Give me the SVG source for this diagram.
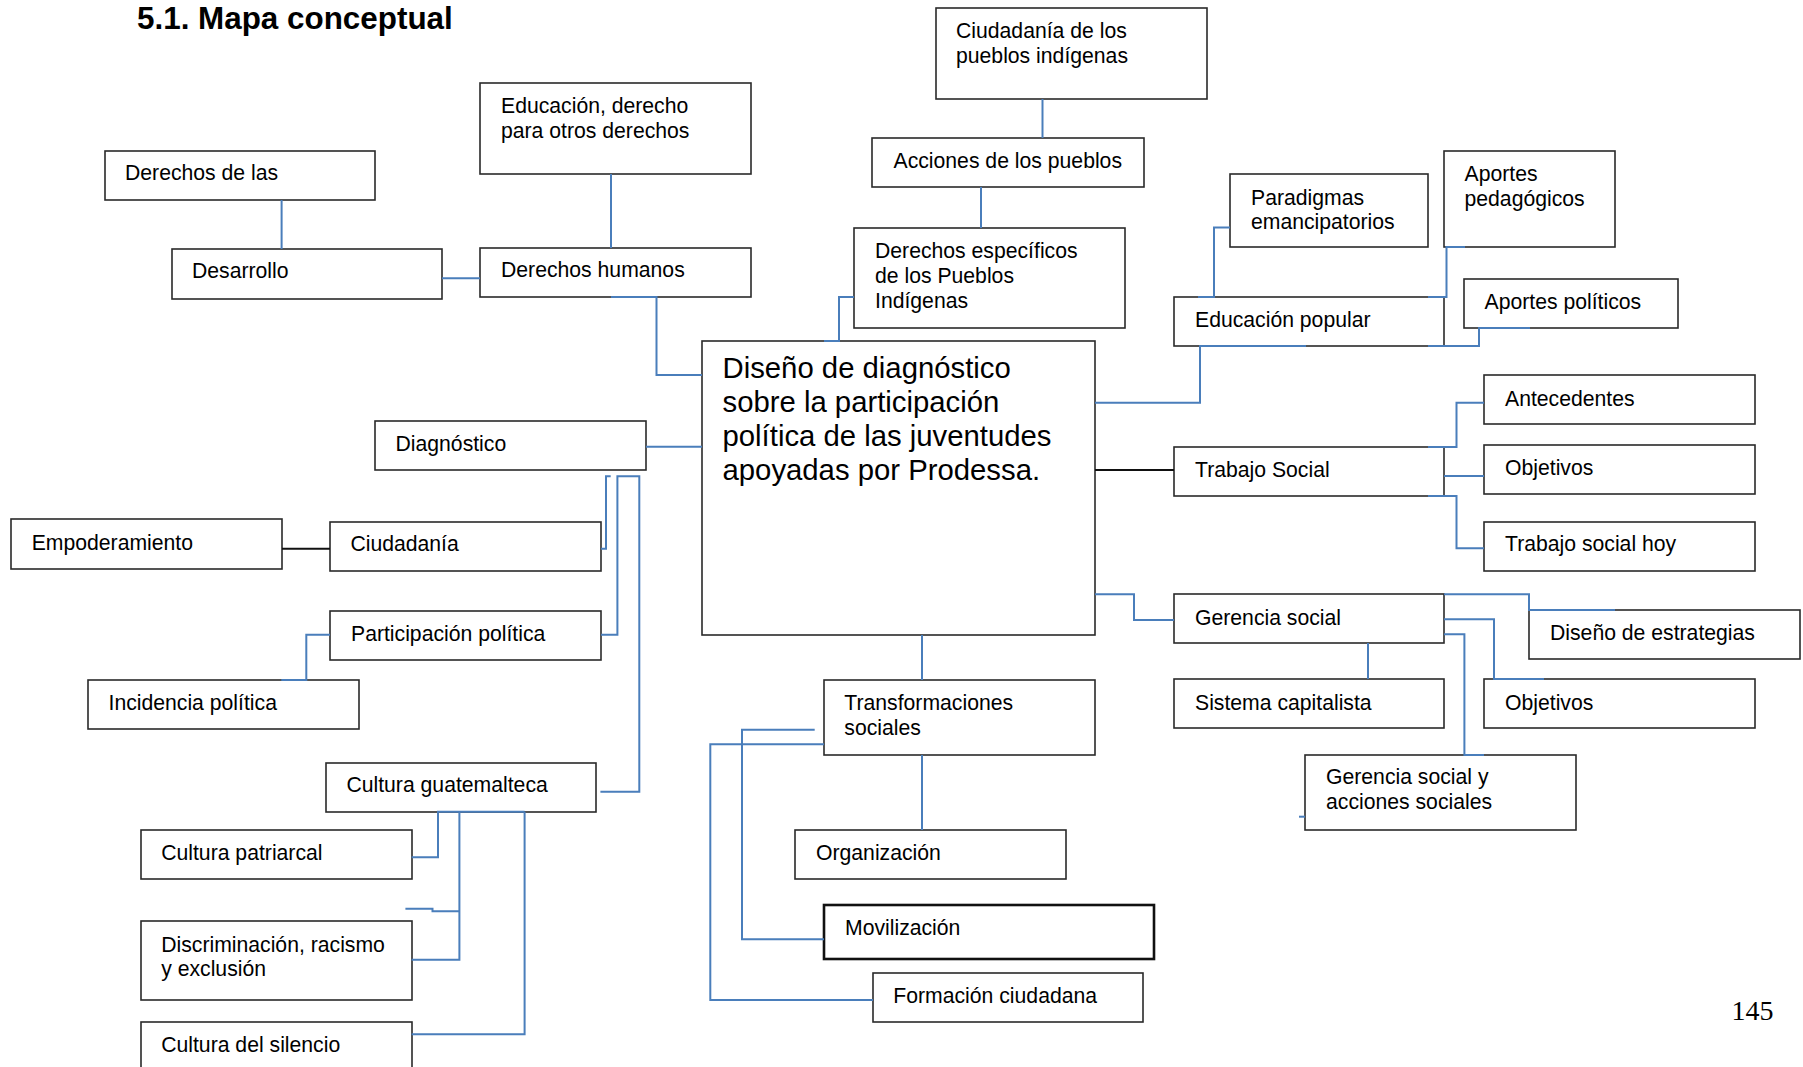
<svg xmlns="http://www.w3.org/2000/svg" width="1803" height="1067" viewBox="0 0 1803 1067">
<style>
.box{fill:#fff;stroke:#2a2a2a;stroke-width:1.6}
.thick{stroke:#111;stroke-width:2.6}
.t{font-family:"Liberation Sans",Arial,sans-serif;font-size:21.2px;fill:#000}
.big{font-size:29.3px}
.title{font-family:"Liberation Sans",Arial,sans-serif;font-size:31.4px;font-weight:bold;fill:#000}
.pg{font-family:"Liberation Serif","Times New Roman",serif;font-size:28px;fill:#000}
.c{fill:none;stroke:#4a7ebb;stroke-width:2}
.k{fill:none;stroke:#111;stroke-width:2}
</style>
<rect width="1803" height="1067" fill="#fff"/>
<text class="title" x="137" y="29">5.1. Mapa conceptual</text>
<text class="pg" x="1731.5" y="1020">145</text>

<g id="n-ciudadania-pueblos"><rect class="box" x="936" y="8" width="271" height="91"/><text class="t" x="956" y="38">Ciudadanía de los</text><text class="t" x="956" y="63">pueblos indígenas</text></g>
<g id="n-acciones"><rect class="box" x="872" y="138" width="272" height="49"/><text class="t" x="893.5" y="168">Acciones de los pueblos</text></g>
<g id="n-derechos-especificos"><rect class="box" x="854" y="228" width="271" height="100"/><text class="t" x="875" y="258">Derechos específicos</text><text class="t" x="875" y="283">de los Pueblos</text><text class="t" x="875" y="308">Indígenas</text></g>
<g id="n-educacion-derecho"><rect class="box" x="480" y="83" width="271" height="91"/><text class="t" x="501" y="113">Educación, derecho</text><text class="t" x="501" y="138">para otros derechos</text></g>
<g id="n-derechos-humanos"><rect class="box" x="480" y="248" width="271" height="49"/><text class="t" x="501" y="277">Derechos humanos</text></g>
<g id="n-derechos-las"><rect class="box" x="105" y="151" width="270" height="49"/><text class="t" x="125" y="180">Derechos de las</text></g>
<g id="n-desarrollo"><rect class="box" x="172" y="249" width="270" height="50"/><text class="t" x="192" y="278">Desarrollo</text></g>
<g id="n-paradigmas"><rect class="box" x="1230" y="174" width="198" height="73"/><text class="t" x="1251" y="205">Paradigmas</text><text class="t" x="1251" y="229">emancipatorios</text></g>
<g id="n-aportes-pedagogicos"><rect class="box" x="1444" y="151" width="171" height="96"/><text class="t" x="1464.5" y="181">Aportes</text><text class="t" x="1464.5" y="206">pedagógicos</text></g>
<g id="n-educacion-popular"><rect class="box" x="1174" y="297" width="270" height="49"/><text class="t" x="1195" y="327">Educación popular</text></g>
<g id="n-aportes-politicos"><rect class="box" x="1464" y="279" width="214" height="49"/><text class="t" x="1484.5" y="309">Aportes políticos</text></g>
<g id="n-centro"><rect class="box" x="702" y="341" width="393" height="294"/><text class="t big" x="722.5" y="378">Diseño de diagnóstico</text><text class="t big" x="722.5" y="412">sobre la participación</text><text class="t big" x="722.5" y="446">política de las juventudes</text><text class="t big" x="722.5" y="480">apoyadas por Prodessa.</text></g>
<g id="n-diagnostico"><rect class="box" x="375" y="421" width="271" height="49"/><text class="t" x="395.5" y="451">Diagnóstico</text></g>
<g id="n-empoderamiento"><rect class="box" x="11" y="519" width="271" height="50"/><text class="t" x="31.7" y="550">Empoderamiento</text></g>
<g id="n-ciudadania"><rect class="box" x="330" y="522" width="271" height="49"/><text class="t" x="350.4" y="551">Ciudadanía</text></g>
<g id="n-participacion"><rect class="box" x="330" y="611" width="271" height="49"/><text class="t" x="351" y="641">Participación política</text></g>
<g id="n-incidencia"><rect class="box" x="88" y="680" width="271" height="49"/><text class="t" x="108.5" y="710">Incidencia política</text></g>
<g id="n-cultura-guatemalteca"><rect class="box" x="326" y="763" width="270" height="49"/><text class="t" x="346.4" y="792">Cultura guatemalteca</text></g>
<g id="n-cultura-patriarcal"><rect class="box" x="141" y="830" width="271" height="49"/><text class="t" x="161.2" y="860">Cultura patriarcal</text></g>
<g id="n-discriminacion"><rect class="box" x="141" y="921" width="271" height="79"/><text class="t" x="161.2" y="952">Discriminación, racismo</text><text class="t" x="161.2" y="976">y exclusión</text></g>
<g id="n-cultura-silencio"><rect class="box" x="141" y="1022" width="271" height="60"/><text class="t" x="161.2" y="1052">Cultura del silencio</text></g>
<g id="n-trabajo-social"><rect class="box" x="1174" y="447" width="270" height="49"/><text class="t" x="1195" y="477">Trabajo Social</text></g>
<g id="n-antecedentes"><rect class="box" x="1484" y="375" width="271" height="49"/><text class="t" x="1505" y="406">Antecedentes</text></g>
<g id="n-objetivos-1"><rect class="box" x="1484" y="445" width="271" height="49"/><text class="t" x="1505" y="475">Objetivos</text></g>
<g id="n-trabajo-social-hoy"><rect class="box" x="1484" y="522" width="271" height="49"/><text class="t" x="1505" y="551">Trabajo social hoy</text></g>
<g id="n-gerencia-social"><rect class="box" x="1174" y="594" width="270" height="49"/><text class="t" x="1195" y="625">Gerencia social</text></g>
<g id="n-diseno-estrategias"><rect class="box" x="1529" y="610" width="271" height="49"/><text class="t" x="1550" y="640">Diseño de estrategias</text></g>
<g id="n-objetivos-2"><rect class="box" x="1484" y="679" width="271" height="49"/><text class="t" x="1505" y="710">Objetivos</text></g>
<g id="n-sistema-capitalista"><rect class="box" x="1174" y="679" width="270" height="49"/><text class="t" x="1195" y="710">Sistema capitalista</text></g>
<g id="n-gerencia-acciones"><rect class="box" x="1305" y="755" width="271" height="75"/><text class="t" x="1326" y="784">Gerencia social y</text><text class="t" x="1326" y="809">acciones sociales</text></g>
<g id="n-transformaciones"><rect class="box" x="824" y="680" width="271" height="75"/><text class="t" x="844.3" y="710">Transformaciones</text><text class="t" x="844.3" y="735">sociales</text></g>
<g id="n-organizacion"><rect class="box" x="795" y="830" width="271" height="49"/><text class="t" x="816" y="860">Organización</text></g>
<g id="n-movilizacion"><rect class="box thick" x="824" y="905" width="330" height="54"/><text class="t" x="845" y="935">Movilización</text></g>
<g id="n-formacion"><rect class="box" x="873" y="973" width="270" height="49"/><text class="t" x="893.3" y="1003">Formación ciudadana</text></g>

<g id="connectors">
<path class="c" d="M281.6,200V249"/>
<path class="c" d="M442,278.3H480"/>
<path class="c" d="M611,174V248"/>
<path class="c" d="M611,297H656.5V375H702"/>
<path class="c" d="M1042.5,99V138"/>
<path class="c" d="M981,187V228"/>
<path class="c" d="M824,341H839V297H854"/>
<path class="c" d="M1198,297H1214V227.5H1230"/>
<path class="c" d="M1428,297H1446.5V247H1465"/>
<path class="c" d="M1428,346H1479V328H1530"/>
<path class="c" d="M1306,346H1200V402.7H1095"/>
<path class="k" d="M1095,470H1174"/>
<path class="c" d="M1428,447H1456.5V402.7H1484"/>
<path class="c" d="M1444,476H1484"/>
<path class="c" d="M1428,496H1456.5V548.3H1484"/>
<path class="c" d="M1095,594.3H1134V620H1174"/>
<path class="c" d="M1444,594.3H1529V610H1615"/>
<path class="c" d="M1444,619.3H1494V679H1544"/>
<path class="c" d="M1368,643V679"/>
<path class="c" d="M1444,634.3H1464.4V755H1484"/>
<path class="c" d="M1299,816.7H1305"/>
<path class="c" d="M922,635V680"/>
<path class="c" d="M922,755V830"/>
<path class="c" d="M814.7,729.7H742V939.3H824"/>
<path class="c" d="M824,744.3H710.3V1000H873"/>
<path class="c" d="M646,446.7H702"/>
<path class="k" d="M282,548.7H330"/>
<path class="c" d="M601,548.7H606V476.3H610.7"/>
<path class="c" d="M601,634.7H617.4V476.3H639.3V791.7H600.4"/>
<path class="c" d="M330,634.7H306.3V680H281.3"/>
<path class="c" d="M524.6,811.7H438V857.3H411.6"/>
<path class="c" d="M459.4,811.7V959.7H411.6"/>
<path class="c" d="M405.4,908.7H432.5V911.3H459.4"/>
<path class="c" d="M524.6,811.7V1034.3H411.6"/>
</g>
</svg>
